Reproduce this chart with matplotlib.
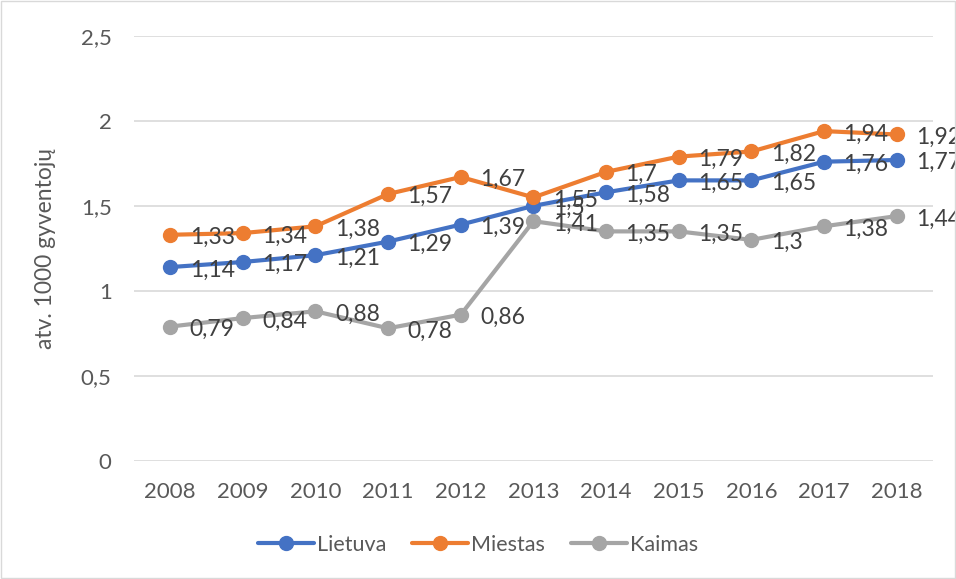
import matplotlib.pyplot as plt
from matplotlib.ticker import FuncFormatter

years = ['2008', '2009', '2010', '2011', '2012', '2013', '2014', '2015', '2016', '2017', '2018']
lietuva = [1.14, 1.17, 1.21, 1.29, 1.39, 1.5, 1.58, 1.65, 1.65, 1.76, 1.77]
miestas = [1.33, 1.34, 1.38, 1.57, 1.67, 1.55, 1.7, 1.79, 1.82, 1.94, 1.92]
kaimas = [0.79, 0.84, 0.88, 0.78, 0.86, 1.41, 1.35, 1.35, 1.3, 1.38, 1.44]

series = [('Lietuva', lietuva, '#4472C4'),
          ('Miestas', miestas, '#ED7D31'),
          ('Kaimas', kaimas, '#A5A5A5')]

text_color = '#595959'
plt.rcParams['font.family'] = ['Lato', 'DejaVu Sans']


def fmt(v, pos=None):
    return f'{v:g}'.replace('.', ',')


fig = plt.figure(figsize=(9.56, 5.79), dpi=100)
ax = fig.add_axes([0.140, 0.204, 0.836, 0.734])

x = list(range(len(years)))
for name, vals, color in series:
    ax.plot(x, vals, color=color, lw=3, marker='o', ms=10, label=name,
            solid_capstyle='round', zorder=3)

# data labels to the right of each point (Excel style)
for name, vals, color in series:
    for xi, v in zip(x, vals):
        ax.annotate(fmt(v), (xi, v), xytext=(14, -2), textcoords='offset points',
                    ha='left', va='center', fontsize=16.5, color='#404040', zorder=4)

ax.set_xlim(-0.5, len(years) - 0.5)
ax.set_ylim(0, 2.5)
ax.set_yticks([0, 0.5, 1, 1.5, 2, 2.5])
ax.yaxis.set_major_formatter(FuncFormatter(fmt))
ax.set_xticks(x)
ax.set_xticklabels(years)
ax.grid(axis='y', color='#D9D9D9', lw=1.2, zorder=0)
for s in ax.spines.values():
    s.set_visible(False)
ax.tick_params(length=0, labelsize=16, colors=text_color)
ax.tick_params(axis='y', pad=16)
ax.tick_params(axis='x', pad=15)
ax.set_ylabel('atv. 1000 gyventojų', fontsize=16.5, color=text_color, labelpad=18)

fig.legend(loc='lower center', bbox_to_anchor=(0.5, 0.008), ncol=3, frameon=False,
           fontsize=15.5, labelcolor=text_color, handlelength=2.6, columnspacing=1.2,
           handletextpad=0.15)

# light border around chart area
fig.patches.append(plt.Rectangle((0.001, 0.001), 0.998, 0.998, transform=fig.transFigure,
                                 fill=False, edgecolor='#D9D9D9', lw=1))

fig.savefig('out.png', dpi=100)
